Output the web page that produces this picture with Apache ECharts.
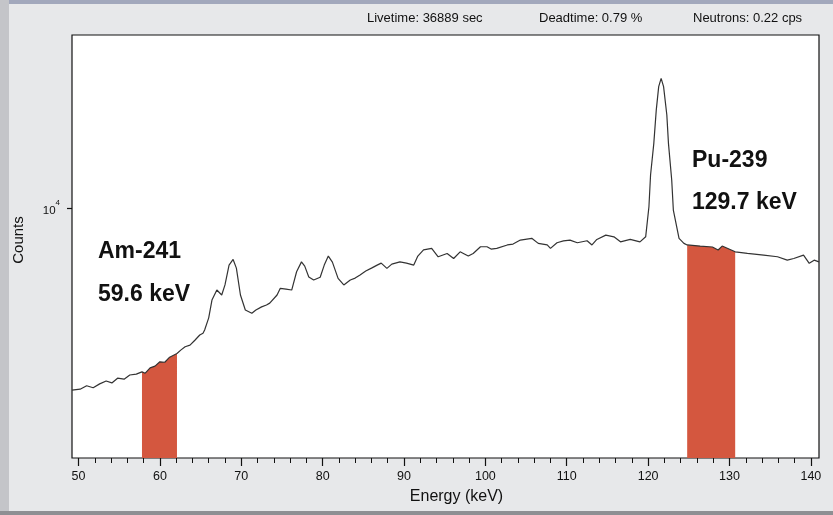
<!DOCTYPE html>
<html>
<head>
<meta charset="utf-8">
<script src="https://cdn.jsdelivr.net/npm/echarts@6/dist/echarts.min.js"></script>
<style>
html,body{margin:0;padding:0;background:#e7e8ea;}
#c{width:833px;height:515px;}
</style>
</head>
<body>
<div id="c"></div>
<script>
// Energy (keV) of each sampled channel
var energy = [49.2,50.2,51.0,51.8,52.6,53.4,54.1,54.8,55.6,56.3,57.1,57.8,58.2,58.8,59.4,60.0,60.6,61.2,62.1,62.6,
63.1,63.7,64.3,64.9,65.3,65.5,66.0,66.4,67.0,67.6,68.0,68.5,69.0,69.4,69.9,70.5,71.3,71.8,72.5,73.1,
73.5,74.4,74.8,75.5,76.2,76.8,77.4,77.8,78.3,78.9,79.7,80.2,80.7,81.2,81.9,82.6,83.4,84.0,84.6,85.3,
86.0,86.7,87.2,87.9,88.5,89.5,90.3,91.2,91.7,92.4,93.4,94.2,95.3,96.1,96.9,97.3,97.9,98.5,99.4,100.2,
100.7,101.4,102.7,103.4,104.3,105.7,106.5,107.6,108.0,108.8,109.6,110.4,111.3,112.5,113.1,113.7,114.8,115.8,116.6,117.8,
119.0,119.7,120.1,120.3,120.7,121.0,121.3,121.6,121.9,122.3,122.5,122.9,123.1,123.8,124.4,124.8,126.4,127.9,128.6,129.1,
130.7,132.2,134.2,135.9,137.1,137.9,139.1,139.8,140.4,141.0];
// Counts at each energy
var counts = [3710,3730,3800,3760,3840,3900,3860,3960,3940,4030,4050,4100,4070,4190,4230,4330,4320,4440,4530,4620,
4700,4740,4870,5010,5060,5150,5500,6060,6400,6230,6580,7330,7560,7210,6230,5740,5640,5740,5840,5900,
5960,6230,6460,6430,6400,7070,7460,7290,6870,6760,6860,7330,7700,7450,6820,6580,6760,6830,6950,7100,
7210,7330,7410,7200,7370,7460,7410,7330,7700,7960,8030,7670,7810,7600,7880,7810,7700,7810,8100,8100,
8000,8030,8180,8220,8400,8480,8250,8180,8030,8280,8360,8400,8280,8370,8180,8430,8630,8550,8320,8430,
8320,8550,10070,11970,14220,17040,19360,20260,19360,16590,14220,11650,9890,8480,8250,8180,8130,8090,7960,8130,
7880,7810,7740,7670,7530,7600,7740,7400,7530,7460];
// Highlighted regions of interest (keV)
var amBand = [57.8, 62.1];
var puBand = [124.8, 130.7];
// Axis ticks
var xMajorTicks = [50,60,70,80,90,100,110,120,130,140];
var xMinorTicks = [52,54,56,58,62,64,66,68,72,74,76,78,82,84,86,88,92,94,96,98,102,104,106,108,112,114,116,118,122,124,126,128,132,134,136,138];
var yTicks = [10000];
var xRange = [49.2, 141.0];
var yRange = [2565, 25650];
// Texts
var statusTexts = ['Livetime: 36889 sec', 'Deadtime: 0.79 %', 'Neutrons: 0.22 cps'];
var amLabel = ['Am-241', '59.6 keV'];
var puLabel = ['Pu-239', '129.7 keV'];

var spectrum = energy.map(function (e, i) { return [e, counts[i]]; });
function band(r) { return spectrum.filter(function (p) { return p[0] >= r[0] - 1e-9 && p[0] <= r[1] + 1e-9; }); }

var FONT = 'Liberation Sans, Arial, sans-serif';
var chart = echarts.init(document.getElementById('c'), null, {renderer: 'canvas'});
var bandColor = '#d4573f';
chart.setOption({
  animation: false,
  backgroundColor: '#e7e8ea',
  grid: {left: 72, right: 14, top: 35, bottom: 57, show: true, backgroundColor: '#ffffff', borderColor: '#111', borderWidth: 1.2, containLabel: false, outerBoundsMode: 'none'},
  xAxis: [{
    type: 'value', min: xRange[0], max: xRange[1],
    name: 'Energy (keV)', nameLocation: 'middle', nameGap: 31,
    nameTextStyle: {fontFamily: FONT, fontSize: 16, color: '#111', padding: [0, 0, 0, 22]},
    axisLine: {show: false},
    splitLine: {show: false},
    axisTick: {show: true, customValues: xMajorTicks, length: 8, lineStyle: {color: '#111', width: 1.2}},
    axisLabel: {customValues: xMajorTicks, fontFamily: FONT, fontSize: 12.5, color: '#111', margin: 12}
  }, {
    type: 'value', min: xRange[0], max: xRange[1], position: 'bottom',
    axisLine: {show: false}, splitLine: {show: false},
    axisTick: {show: true, customValues: xMinorTicks, length: 5, lineStyle: {color: '#111', width: 1}},
    axisLabel: {show: false}
  }],
  yAxis: {
    type: 'log', logBase: 10, min: yRange[0], max: yRange[1],
    name: 'Counts', nameLocation: 'middle', nameGap: 46,
    nameTextStyle: {fontFamily: FONT, fontSize: 15, color: '#111', padding: [0, 0, 0, 13]},
    axisLine: {show: false}, splitLine: {show: false}, minorTick: {show: false},
    axisTick: {show: true, customValues: yTicks, length: 5, lineStyle: {color: '#111', width: 1.2}},
    axisLabel: {
      customValues: yTicks, margin: 12, color: '#111',
      formatter: function (v) { return '{b|10}{s|' + Math.round(Math.log10(v)) + '}'; },
      rich: {
        b: {fontFamily: FONT, fontSize: 11.5, color: '#111', lineHeight: 18, verticalAlign: 'bottom'},
        s: {fontFamily: FONT, fontSize: 8, color: '#111', lineHeight: 18, verticalAlign: 'top'}
      }
    }
  },
  series: [
    {type: 'line', data: band(amBand), showSymbol: false, z: 2, lineStyle: {width: 0}, areaStyle: {color: bandColor, opacity: 1, origin: 'start'}},
    {type: 'line', data: band(puBand), showSymbol: false, z: 2, lineStyle: {width: 0}, areaStyle: {color: bandColor, opacity: 1, origin: 'start'}},
    {type: 'line', data: spectrum, showSymbol: false, z: 3, lineStyle: {color: '#333', width: 1.2}}
  ],
  graphic: [
    {type: 'rect', shape: {x: 0, y: 0, width: 833, height: 4}, style: {fill: '#a2a8bc'}, z: -10, silent: true},
    {type: 'rect', shape: {x: 0, y: 0, width: 9, height: 515}, style: {fill: '#c4c5c9'}, z: -10, silent: true},
    {type: 'rect', shape: {x: 0, y: 511, width: 833, height: 4}, style: {fill: '#8e8f93'}, z: -10, silent: true},
    {type: 'text', left: 367, top: 12, style: {text: statusTexts[0], font: '13px ' + FONT, fill: '#111'}},
    {type: 'text', left: 539, top: 12, style: {text: statusTexts[1], font: '13px ' + FONT, fill: '#111'}},
    {type: 'text', left: 693, top: 12, style: {text: statusTexts[2], font: '13px ' + FONT, fill: '#111'}},
    {type: 'text', left: 98, top: 240, z: 10, style: {text: amLabel[0], font: 'bold 23px ' + FONT, fill: '#111'}},
    {type: 'text', left: 98, top: 283, z: 10, style: {text: amLabel[1], font: 'bold 23px ' + FONT, fill: '#111'}},
    {type: 'text', left: 692, top: 149, z: 10, style: {text: puLabel[0], font: 'bold 23px ' + FONT, fill: '#111'}},
    {type: 'text', left: 692, top: 191, z: 10, style: {text: puLabel[1], font: 'bold 23px ' + FONT, fill: '#111'}}
  ]
});
</script>
</body>
</html>
